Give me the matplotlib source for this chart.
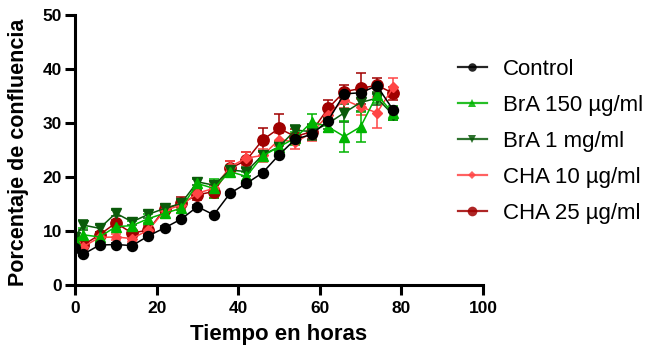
import matplotlib.pyplot as plt
from matplotlib.lines import Line2D

plt.rcParams['font.family'] = ['Liberation Sans', 'DejaVu Sans']

# hours
tiempo = [0, 2, 6, 10, 14, 18, 22, 26, 30, 34, 38, 42, 46, 50, 54, 58, 62, 66, 70, 74, 78]

control = [6.8, 5.7, 7.4, 7.5, 7.3, 9.1, 10.6, 12.2, 14.5, 13.0, 17.0, 18.8, 20.8, 24.1,
           27.0, 27.9, 30.4, 35.4, 35.6, 36.9, 32.4]
control_err = [0.3] * 21

bra150 = [8.3, 9.3, 8.9, 10.8, 11.0, 12.3, 13.3, 14.2, 18.8, 17.9, 21.0, 20.1, 23.9, 25.6,
          27.2, 30.2, 29.3, 27.5, 29.3, 35.2, 31.8]
bra150_err = [0.8, 1.3, 0.7, 0.7, 0.8, 0.8, 0.8, 0.9, 1.0, 1.7, 1.0, 0.9, 1.0, 1.0,
              1.2, 1.4, 1.0, 2.8, 2.8, 1.5, 1.3]

bra1 = [8.9, 11.1, 10.5, 13.3, 11.7, 13.1, 14.2, 15.1, 19.1, 18.5, 21.3, 21.0, 24.1, 25.6,
        28.7, 28.4, 29.9, 31.9, 33.8, 34.6, 31.5]
bra1_err = [0.6, 1.0, 0.6, 0.6, 0.6, 0.6, 0.6, 0.6, 0.6, 0.8, 0.7, 0.9, 0.8, 0.8,
            1.0, 1.5, 1.0, 1.7, 1.5, 1.2, 0.9]

cha10 = [8.0, 7.1, 8.8, 8.9, 8.6, 10.2, 13.8, 14.8, 17.0, 17.9, 21.9, 23.5, 24.0, 26.9,
         26.5, 28.1, 31.5, 34.3, 33.0, 31.9, 36.6]
cha10_err = [0.6, 0.6, 0.5, 0.5, 0.6, 0.6, 0.7, 0.8, 0.9, 1.1, 1.1, 1.2, 1.2, 1.2,
             1.4, 1.4, 1.2, 1.5, 1.5, 2.9, 1.8]

cha25 = [8.3, 7.4, 9.3, 11.5, 9.6, 10.2, 14.1, 15.1, 16.7, 17.3, 21.6, 23.1, 26.9, 29.0,
         27.5, 28.4, 32.7, 35.8, 36.4, 37.0, 35.5]
cha25_err = [0.5, 0.6, 0.6, 0.6, 0.6, 0.7, 0.9, 1.2, 0.9, 1.2, 1.4, 1.5, 2.2, 2.6,
             1.3, 1.3, 1.5, 1.2, 2.8, 1.4, 1.2]

series = [
    ("Control", control, control_err, "black", "o", 7.2),
    ("BrA 150 µg/ml", bra150, bra150_err, "#00B400", "^", 7.2),
    ("BrA 1 mg/ml", bra1, bra1_err, "#0A5A0A", "v", 7.2),
    ("CHA 10 µg/ml", cha10, cha10_err, "#FF4545", "D", 5),
    ("CHA 25 µg/ml", cha25, cha25_err, "#A00000", "o", 8.2),
]

fig = plt.figure(figsize=(6.47, 3.6), dpi=100)
ax = fig.add_axes([0.116, 0.2083, 0.6305, 0.75])

# draw in reverse so Control sits on top
for name, y, err, col, mk, ms in reversed(series):
    ax.errorbar(tiempo, y, yerr=err, color=col, marker=mk, markersize=ms,
                linewidth=1.1, elinewidth=1.1, capsize=3.5, capthick=1.1)

# legend: line + marker only
proxies = [Line2D([], [], color=col, marker=mk, markersize=ms * 0.85, linewidth=1.6,
                  alpha=0.85, markeredgewidth=0)
           for name, y, err, col, mk, ms in series]
fig.legend(proxies, [s[0] for s in series], loc='upper left',
           bbox_to_anchor=(0.694, 0.862), bbox_transform=fig.transFigure,
           frameon=False, fontsize=16, borderaxespad=0, labelspacing=0.68,
           handlelength=1.3, handletextpad=0.72)

ax.set_xlim(0, 100)
ax.set_ylim(0, 50)
ax.set_xticks([0, 20, 40, 60, 80, 100])
ax.set_yticks([0, 10, 20, 30, 40, 50])
for s in ['top', 'right']:
    ax.spines[s].set_visible(False)
for s in ['left', 'bottom']:
    ax.spines[s].set_linewidth(2.2)
ax.tick_params(width=2.2, length=7.5, labelsize=12.5)
ax.tick_params(axis='x', pad=4)
ax.tick_params(axis='y', pad=2)
for lbl in ax.get_xticklabels() + ax.get_yticklabels():
    lbl.set_fontweight('bold')
ax.set_xlabel("Tiempo en horas", fontsize=16, fontweight='bold', labelpad=6)
ax.set_ylabel("Porcentaje de confluencia", fontsize=15.5, fontweight='bold')
ax.yaxis.set_label_coords(-0.114, 0.49)

fig.savefig("out.png", dpi=100)
